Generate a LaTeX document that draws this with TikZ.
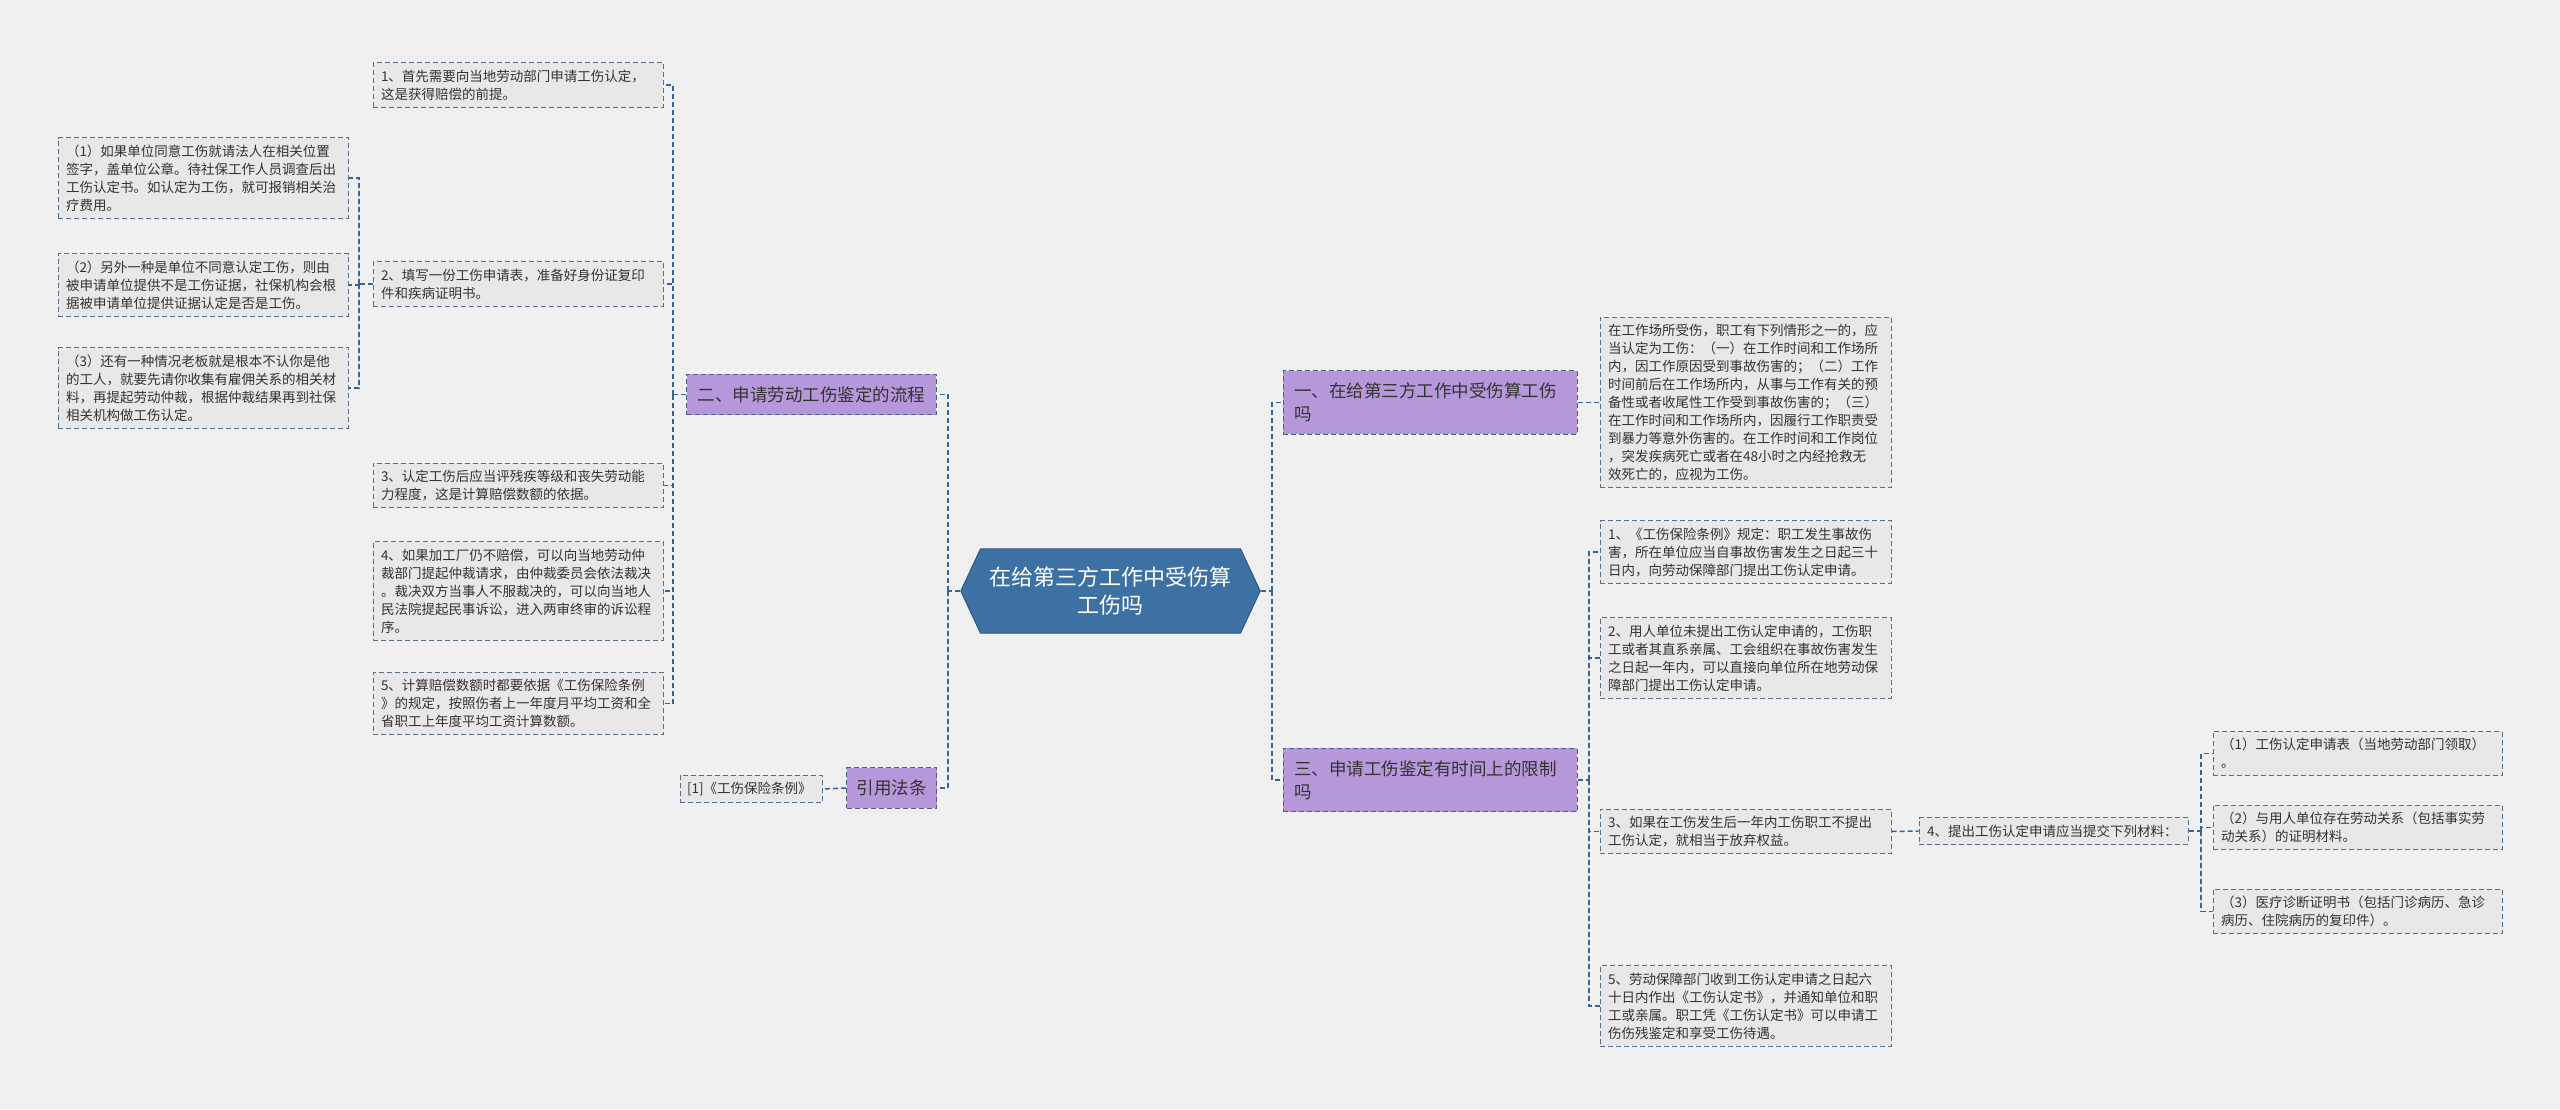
\documentclass[tikz,border=0pt]{standalone}
\usepackage{fontspec}
\setmainfont{Noto Sans CJK SC}
\usetikzlibrary{shapes.symbols, positioning}

\definecolor{bggray}{RGB}{240,240,240}
\definecolor{leafgray}{RGB}{232,232,232}
\definecolor{boxline}{RGB}{86,112,140}
\definecolor{topicpurple}{RGB}{181,151,218}
\definecolor{topicline}{RGB}{72,98,138}
\definecolor{rootblue}{RGB}{61,113,164}
\definecolor{rootline}{RGB}{44,88,132}
\definecolor{linkblue}{RGB}{52,101,150}
\definecolor{textdark}{RGB}{51,51,51}

\begin{document}
\begin{tikzpicture}[x=1pt, y=-1pt,
    leaf/.style={rectangle, draw=boxline, dash pattern=on 5pt off 3pt, line width=1pt, fill=leafgray, text width=274pt, align=left, inner xsep=8pt, inner ysep=7pt, font=\fontsize{13.5}{18}\selectfont, text=textdark},
    topic/.style={rectangle, draw=topicline, dash pattern=on 5pt off 3pt, line width=1pt, fill=topicpurple, align=left, inner xsep=11pt, inner ysep=12pt, font=\fontsize{17.5}{23}\selectfont, text=textdark},
    root/.style={signal, signal to=west and east, signal pointer angle=130, draw=rootline, line width=1pt, fill=rootblue, text=white, text width=242pt, align=center, inner xsep=9pt, inner ysep=18pt, font=\fontsize{22}{28}\selectfont},
    link/.style={draw=linkblue, line width=1.5pt, dash pattern=on 5pt off 3pt}
]
    \useasboundingbox (0,0) rectangle (2560,1109);
    \fill[bggray] (0,0) rectangle (2560,1109);

    \node[root] (root) at (1110.5,591) {在给第三方工作中受伤算\\工伤吗};

    % left side
    \node[topic] (two) at (811.5,394.5) {二、申请劳动工伤鉴定的流程};
    \node[topic, inner xsep=10pt] (cite) at (891.5,788) {引用法条};
    \node[leaf, text width=128pt, inner xsep=7pt] (citeref) at (751,789) {[1]《工伤保险条例》};

    \node[leaf] (l1) at (518,85) {1、首先需要向当地劳动部门申请工伤认定，\\这是获得赔偿的前提。};
    \node[leaf] (l2) at (518,284) {2、填写一份工伤申请表，准备好身份证复印\\件和疾病证明书。};
    \node[leaf] (l3) at (518,485.5) {3、认定工伤后应当评残疾等级和丧失劳动能\\力程度，这是计算赔偿数额的依据。};
    \node[leaf] (l4) at (518,591) {4、如果加工厂仍不赔偿，可以向当地劳动仲\\裁部门提起仲裁请求，由仲裁委员会依法裁决\\。裁决双方当事人不服裁决的，可以向当地人\\民法院提起民事诉讼，进入两审终审的诉讼程\\序。};
    \node[leaf] (l5) at (518,703.5) {5、计算赔偿数额时都要依据《工伤保险条例\\》的规定，按照伤者上一年度月平均工资和全\\省职工上年度平均工资计算数额。};

    \node[leaf] (s1) at (203,178) {（1）如果单位同意工伤就请法人在相关位置\\签字，盖单位公章。待社保工作人员调查后出\\工伤认定书。如认定为工伤，就可报销相关治\\疗费用。};
    \node[leaf] (s2) at (203,285) {（2）另外一种是单位不同意认定工伤，则由\\被申请单位提供不是工伤证据，社保机构会根\\据被申请单位提供证据认定是否是工伤。};
    \node[leaf] (s3) at (203,388) {（3）还有一种情况老板就是根本不认你是他\\的工人，就要先请你收集有雇佣关系的相关材\\料，再提起劳动仲裁，根据仲裁结果再到社保\\相关机构做工伤认定。};

    % right side
    \node[topic, text width=272pt] (one) at (1430,402.5) {一、在给第三方工作中受伤算工伤\\吗};
    \node[topic, text width=272pt] (three) at (1430,780) {三、申请工伤鉴定有时间上的限制\\吗};

    \node[leaf, text width=275pt] (r1) at (1745.5,402.5) {在工作场所受伤，职工有下列情形之一的，应\\当认定为工伤：（一）在工作时间和工作场所\\内，因工作原因受到事故伤害的；（二）工作\\时间前后在工作场所内，从事与工作有关的预\\备性或者收尾性工作受到事故伤害的；（三）\\在工作时间和工作场所内，因履行工作职责受\\到暴力等意外伤害的。在工作时间和工作岗位\\，突发疾病死亡或者在48小时之内经抢救无\\效死亡的，应视为工伤。};

    \node[leaf, text width=275pt] (t1) at (1745.5,552) {1、《工伤保险条例》规定：职工发生事故伤\\害，所在单位应当自事故伤害发生之日起三十\\日内，向劳动保障部门提出工伤认定申请。};
    \node[leaf, text width=275pt] (t2) at (1745.5,658) {2、用人单位未提出工伤认定申请的，工伤职\\工或者其直系亲属、工会组织在事故伤害发生\\之日起一年内，可以直接向单位所在地劳动保\\障部门提出工伤认定申请。};
    \node[leaf, text width=275pt] (t3) at (1745.5,831.5) {3、如果在工伤发生后一年内工伤职工不提出\\工伤认定，就相当于放弃权益。};
    \node[leaf, text width=275pt] (t5) at (1745.5,1006) {5、劳动保障部门收到工伤认定申请之日起六\\十日内作出《工伤认定书》，并通知单位和职\\工或亲属。职工凭《工伤认定书》可以申请工\\伤伤残鉴定和享受工伤待遇。};

    \node[leaf, text width=253pt] (t4) at (2053.5,831) {4、提出工伤认定申请应当提交下列材料：};

    \node[leaf, text width=273pt] (u1) at (2357.5,753.5) {（1）工伤认定申请表（当地劳动部门领取）\\。};
    \node[leaf, text width=273pt] (u2) at (2357.5,827.5) {（2）与用人单位存在劳动关系（包括事实劳\\动关系）的证明材料。};
    \node[leaf, text width=273pt] (u3) at (2357.5,911.5) {（3）医疗诊断证明书（包括门诊病历、急诊\\病历、住院病历的复印件）。};

    % connectors
    \coordinate (lt) at (948,591);
    \draw[link] (root.west) -- (lt);
    \draw[link] (lt) |- (two.east);
    \draw[link] (lt) |- (cite.east);
    \draw[link] (cite.west) -- (citeref.east);

    \coordinate (twoj) at (673,394.5);
    \draw[link] (two.west) -- (twoj);
    \foreach \n in {l1,l2,l3,l4,l5}
        \draw[link] (twoj) |- (\n.east);

    \coordinate (l2j) at (359,284);
    \draw[link] (l2.west) -- (l2j);
    \foreach \n in {s1,s2,s3}
        \draw[link] (l2j) |- (\n.east);

    \coordinate (rt) at (1272,591);
    \draw[link] (root.east) -- (rt);
    \draw[link] (rt) |- (one.west);
    \draw[link] (rt) |- (three.west);
    \draw[link] (one.east) -- (r1.west);

    \coordinate (threej) at (1589,780);
    \draw[link] (three.east) -- (threej);
    \foreach \n in {t1,t2,t3,t5}
        \draw[link] (threej) |- (\n.west);
    \draw[link] (t3.east) -- (t4.west);

    \coordinate (t4j) at (2201,831);
    \draw[link] (t4.east) -- (t4j);
    \foreach \n in {u1,u2,u3}
        \draw[link] (t4j) |- (\n.west);
\end{tikzpicture}
\end{document}
